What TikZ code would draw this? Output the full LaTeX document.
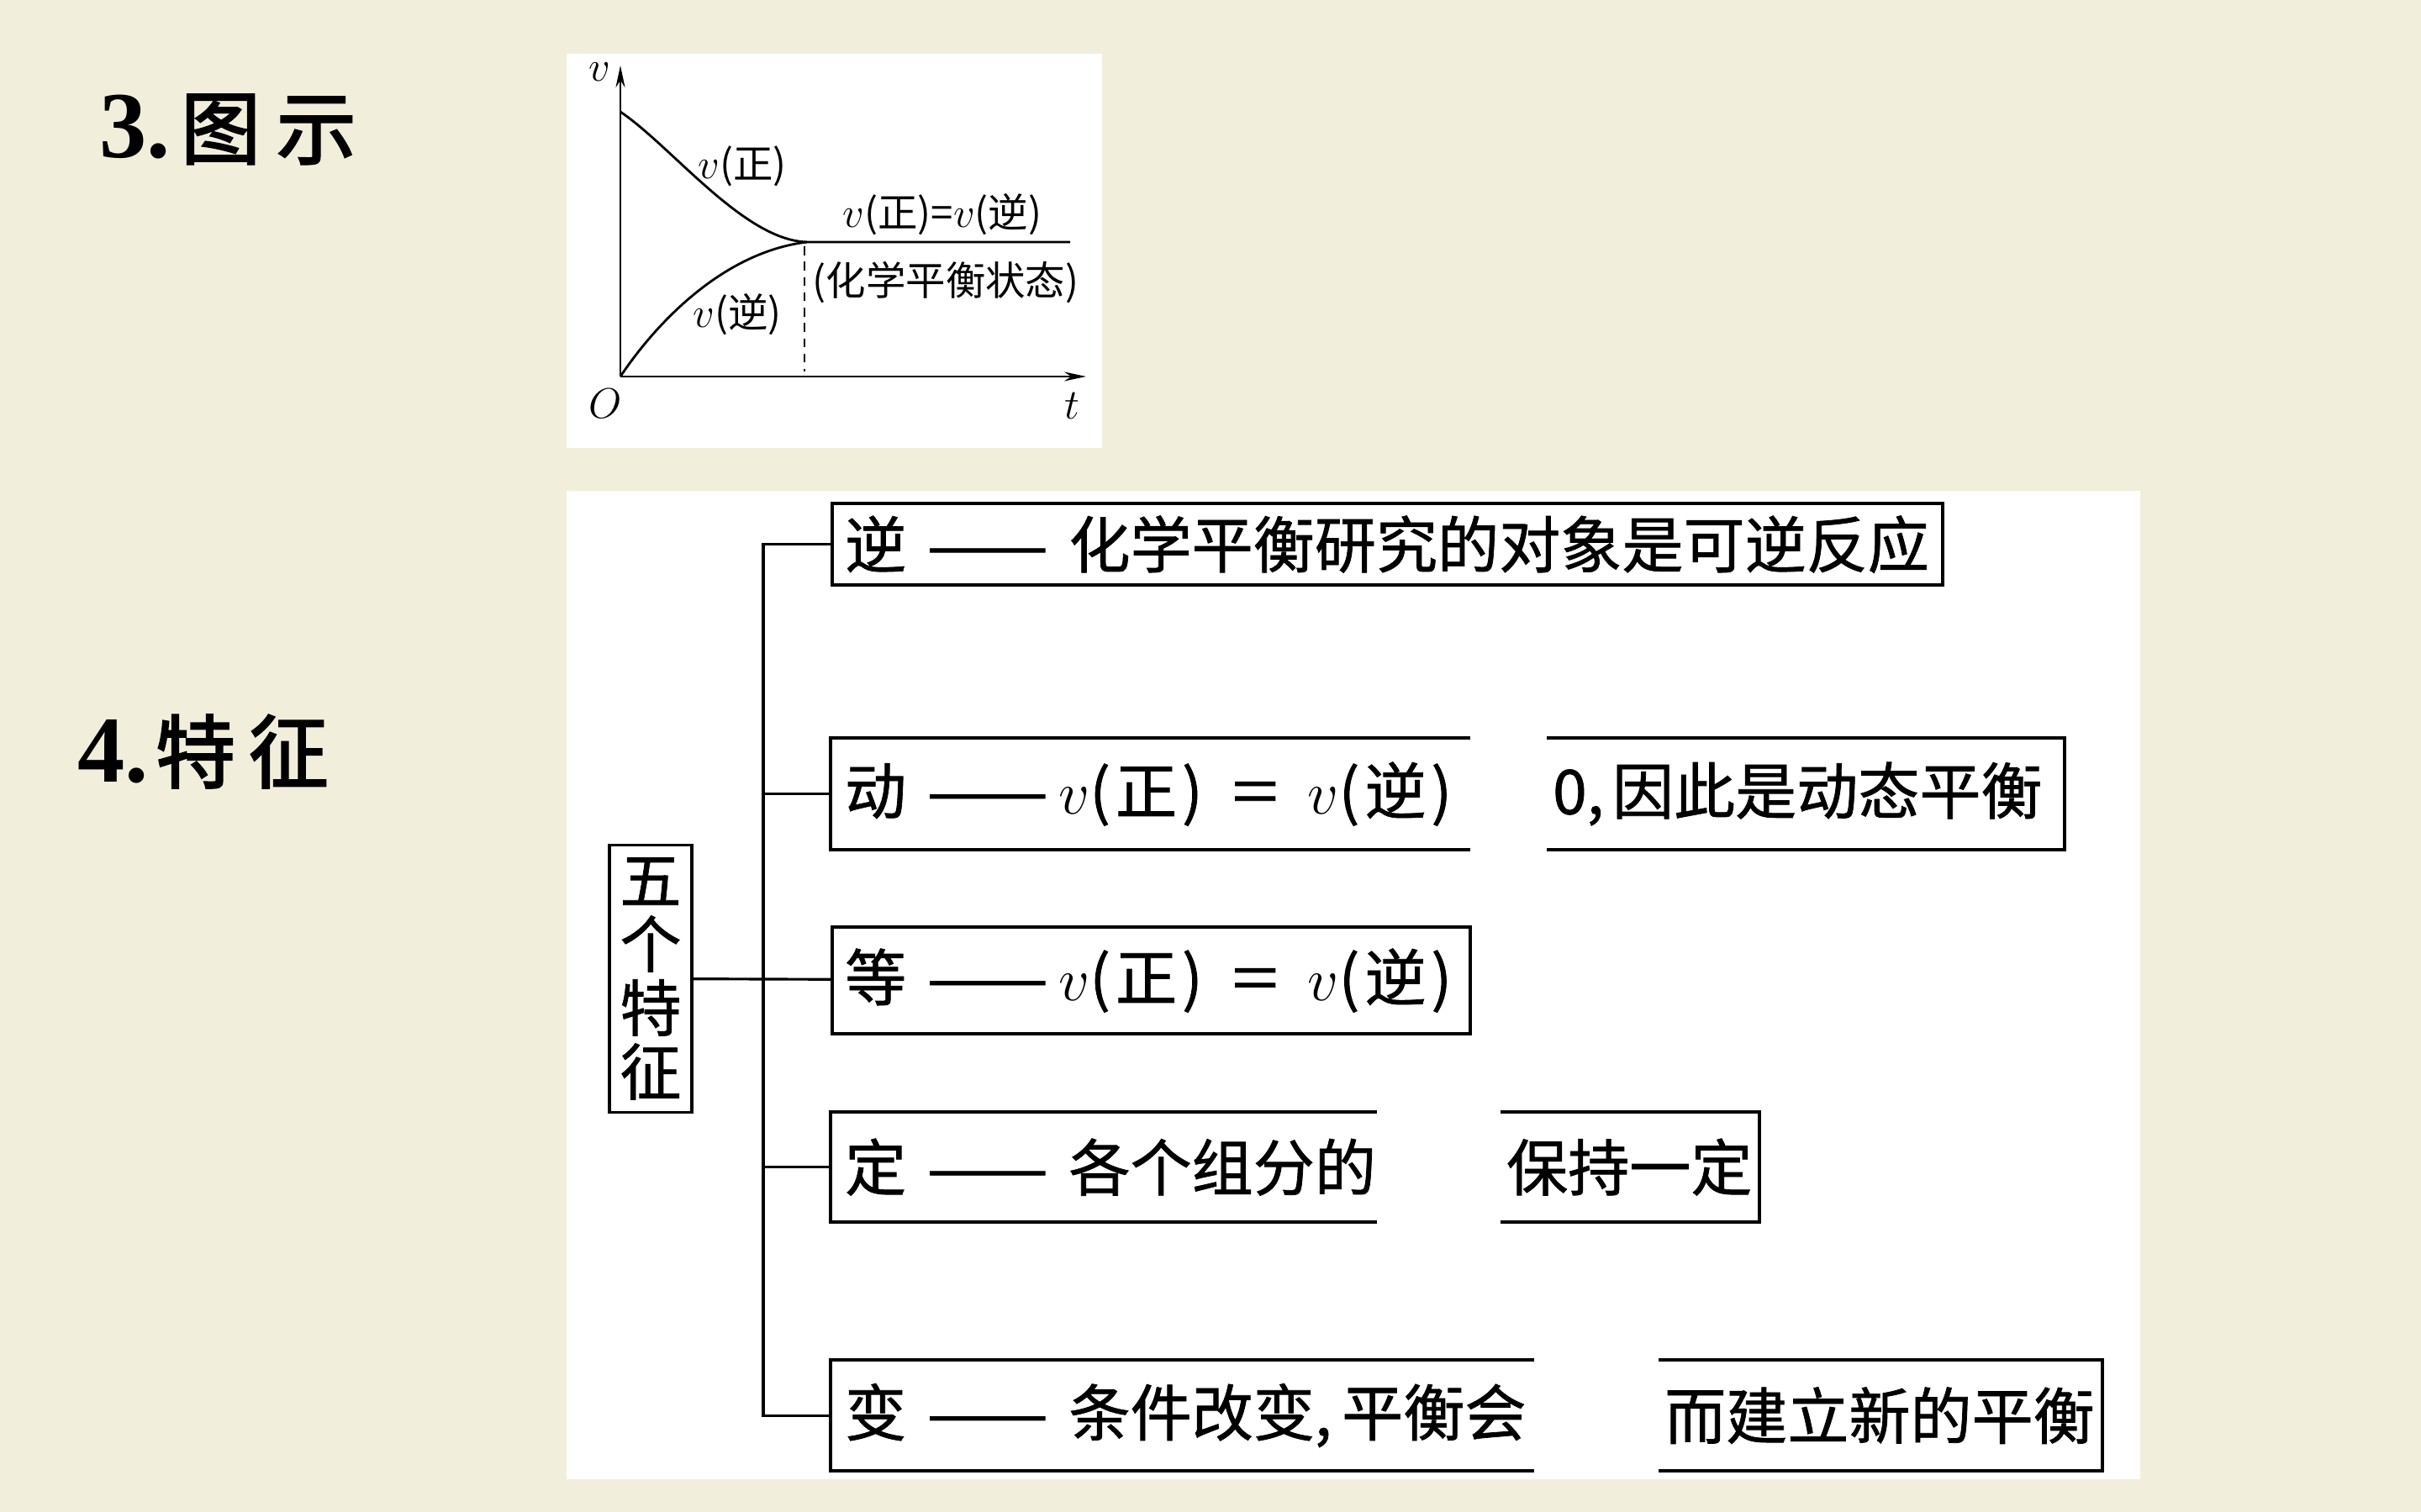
\documentclass[tikz,border=0pt]{standalone}
\usepackage{fontspec}
\setmainfont{Liberation Serif}
\newfontfamily\cjk{Noto Sans CJK SC}
\newfontfamily\cjkbox[FakeBold=1]{Noto Sans CJK SC}
\newfontfamily\cjkbold[FakeBold=2.5]{Noto Sans CJK SC}
\usepackage{tikz}
\usetikzlibrary{arrows.meta, positioning, calc}
\usepackage{xcolor}
\definecolor{pagebeige}{HTML}{F2EEDC}
\newcommand{\longdash}{\scalebox{1.18}[1]{——}}
\newcommand{\wideeq}{\scalebox{1.35}[1]{=}}

\begin{document}
\begin{tikzpicture}[
  head/.style={anchor=west, inner sep=0pt, font=\fontsize{27}{30}\selectfont},
  glbl/.style={inner sep=0pt, font=\cjk\fontsize{13.5}{15}\selectfont},
  vaxis/.style={line width=0.8pt, -{Stealth[length=0.26cm, width=0.11cm]}},
  rate/.style={line width=0.8pt},
  box/.style={draw, line width=1.2pt, anchor=north west, inner xsep=0.15cm,
    inner ysep=0pt, align=left, font=\cjkbox\fontsize{20.8}{24}\selectfont},
  openl/.style={box, draw=none},
  openr/.style={box, draw=none, inner xsep=0.05cm},
  vbox/.style={draw, line width=1pt, minimum width=0.98cm, minimum height=3.18cm,
    inner sep=0pt, align=center, font=\cjkbox\fontsize{20.8}{21.6}\selectfont},
  conn/.style={line width=0.9pt},
  rim/.style={line width=1.2pt}
]
  % Background
  \fill[pagebeige] (0,0) rectangle (28.8,-17.99);

  % 3. graph
  \node[head] (h3) at (1.18,-1.54)
    {{\fontsize{32}{34}\selectfont\bfseries 3.}\hspace{0.12cm}{\cjkbold 图\hspace{0.19cm}示}};
  \fill[white] (6.74,-0.64) rectangle (13.11,-5.33);

  \coordinate (o) at (7.38,-4.48);
  \coordinate (vtip) at (7.38,-0.78);
  \coordinate (ttip) at (12.92,-4.48);
  \coordinate (eq) at (9.60,-2.88);
  \coordinate (eqend) at (12.73,-2.88);
  \coordinate (zstart) at (7.38,-1.33);

  \draw[vaxis] (o) -- (vtip);
  \draw[vaxis] (o) -- (ttip);
  \draw[rate] (zstart) .. controls (8.0,-1.75) and (8.85,-2.86) .. (eq) -- (eqend);
  \draw[rate] (o) .. controls (7.8,-3.85) and (8.6,-3.0) .. (eq);
  \draw[rate, dash pattern=on 3pt off 2.2pt] (9.57,-2.93) -- (9.57,-4.42);

  \node[glbl] (vl) at (7.13,-0.86) {$v$};
  \node[glbl] (ol) at (7.20,-4.80) {$O$};
  \node[glbl] (tl) at (12.75,-4.83) {$t$};
  \node[glbl] (zl) at (8.83,-1.98) {$v$(正)};
  \node[glbl] (nl) at (8.77,-3.74) {$v$(逆)};
  \node[glbl] (el) at (11.21,-2.55) {$v$(正)=$v$(逆)};
  \node[glbl] (sl) at (11.25,-3.36) {(化学平衡状态)};

  % 4. features
  \node[head] (h4) at (0.92,-8.94)
    {{\fontsize{32}{34}\selectfont\bfseries 4.}\hspace{0.08cm}{\cjkbold 特\hspace{0.16cm}征}};
  \fill[white] (6.74,-5.84) rectangle (25.46,-17.60);

  \node[vbox] (wu) at (7.74,-11.645) {五\\个\\特\\征};

  \node[box, text width=12.91cm, minimum height=0.97cm] (ni) at (9.88,-5.97)
    {\mbox{逆~\longdash~化学平衡研究的对象是可逆反应}};
  \node[openl, text width=7.27cm, minimum height=1.29cm] (dongl) at (9.88,-8.78)
    {\mbox{动~\longdash\hspace{0.12cm}$v$(\hspace{0.06cm}正\hspace{0.06cm})\hspace{0.35cm}\wideeq\hspace{0.35cm}$v$(\hspace{0.06cm}逆\hspace{0.06cm})}};
  \node[openr, text width=6.02cm, minimum height=1.29cm] (dongr) at (18.40,-8.78)
    {\mbox{0,\hspace{0.1cm}因此是动态平衡}};
  \node[box, text width=7.29cm, minimum height=1.27cm] (deng) at (9.88,-11.01)
    {\mbox{等~\longdash\hspace{0.12cm}$v$(\hspace{0.06cm}正\hspace{0.06cm})\hspace{0.35cm}\wideeq\hspace{0.35cm}$v$(\hspace{0.06cm}逆\hspace{0.06cm})}};
  \node[openl, text width=6.16cm, minimum height=1.27cm] (dingl) at (9.88,-13.23)
    {\mbox{定~\longdash~各个组分的}};
  \node[openr, text width=2.94cm, minimum height=1.27cm] (dingr) at (17.85,-13.23)
    {\mbox{保持一定}};
  \node[openl, text width=8.03cm, minimum height=1.28cm] (bianl) at (9.88,-16.18)
    {\mbox{变~\longdash~条件改变,\hspace{0.12cm}平衡会}};
  \node[openr, text width=5.14cm, minimum height=1.28cm] (bianr) at (19.73,-16.18)
    {\mbox{而建立新的平衡}};

  % open rims
  \foreach \b in {dongl, dingl, bianl}
    \draw[rim] (\b.north east) -- (\b.north west) -- (\b.south west) -- (\b.south east);
  \foreach \b in {dongr, dingr, bianr}
    \draw[rim] (\b.north west) -- (\b.north east) -- (\b.south east) -- (\b.south west);

  % Connectors
  \coordinate (trunk) at (9.08,-11.645);
  \draw[conn] (wu) -- (deng);
  \draw[conn] (ni.west) -- (ni.west -| trunk) |- (bianl.west);
  \foreach \b in {dongl, dingl}
    \draw[conn] (\b.west) -- (\b.west -| trunk);
\end{tikzpicture}
\end{document}
